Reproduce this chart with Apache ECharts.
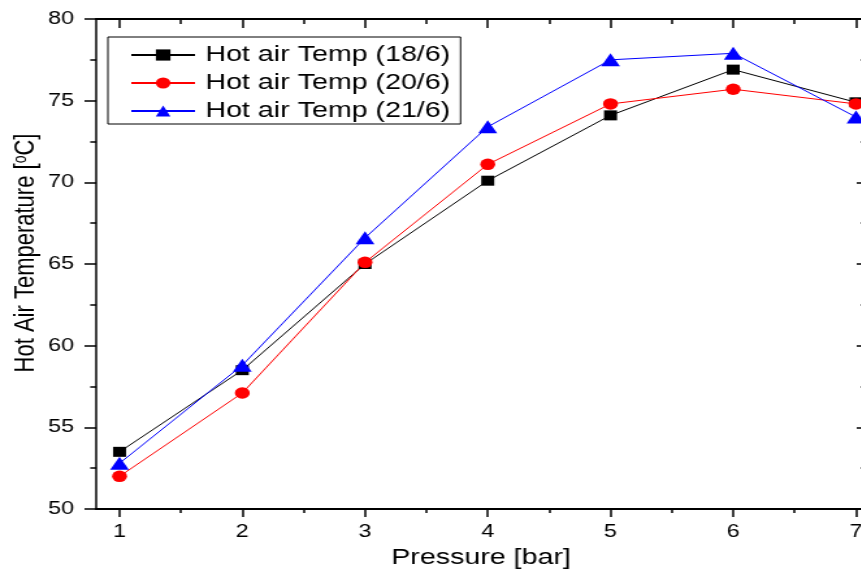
<!DOCTYPE html>
<html>
<head>
<meta charset="utf-8">
<script src="https://cdn.jsdelivr.net/npm/echarts@6/dist/echarts.min.js"></script>
<style>
  html, body { margin: 0; padding: 0; overflow: hidden; background: #fff; }
  /* the source figure is stretched sideways, so the chart is drawn narrow and widened */
  #chart { width: 668px; height: 571px; transform: scaleX(1.3); transform-origin: 0 0; }
</style>
</head>
<body>
<div id="chart"></div>
<script>
const pressure = [1, 2, 3, 4, 5, 6, 7]
const halfTicks = [1.5, 2.5, 3.5, 4.5, 5.5, 6.5]
const temp18 = [53.5, 58.5, 65.0, 70.1, 74.1, 76.9, 74.9]
const temp20 = [52.0, 57.1, 65.1, 71.1, 74.8, 75.7, 74.8]
const temp21 = [52.8, 58.8, 66.6, 73.4, 77.5, 77.9, 74.0]
const seriesNames = ['Hot air Temp (18/6)', 'Hot air Temp (20/6)', 'Hot air Temp (21/6)']

const font = 'Liberation Sans, Arial, sans-serif'
const black = '#000'

function pairs (ys) {
  return pressure.map((x, i) => [x, ys[i]])
}

const xBase = {
  type: 'value',
  min: 0.81,
  max: 7.08,
  splitLine: { show: false },
  axisLine: { lineStyle: { color: black, width: 2 } },
  axisLabel: { show: false }
}

const chart = echarts.init(document.getElementById('chart'), null, { renderer: 'canvas' })
chart.setOption({
  animation: false,
  backgroundColor: '#fff',
  grid: { left: 74, top: 19, width: 592, height: 490, outerBoundsMode: 'none' },
  legend: {
    orient: 'vertical',
    left: 83,
    top: 37,
    padding: [7, 8, 2, 17],
    itemWidth: 49,
    itemHeight: 14,
    itemGap: 6,
    borderColor: black,
    borderWidth: 1,
    borderRadius: 0,
    textStyle: { fontSize: 22, fontFamily: font, color: black, lineHeight: 22, padding: [0, 0, 0, 3] },
    data: seriesNames
  },
  xAxis: [
    {
      ...xBase,
      position: 'bottom',
      axisTick: { customValues: pressure, length: 8, lineStyle: { color: black, width: 1.5 } },
      axisLabel: { show: true, customValues: pressure, fontSize: 18, fontFamily: font, color: black, margin: 14 },
      name: 'Pressure [bar]',
      nameLocation: 'middle',
      nameGap: 38,
      nameMoveOverlap: false,
      nameTextStyle: { fontSize: 22, fontFamily: font, color: black }
    },
    {
      ...xBase,
      position: 'top',
      axisTick: { inside: true, customValues: pressure, length: 9, lineStyle: { color: black, width: 1.5 } }
    },
    { // minor ticks, bottom
      ...xBase,
      position: 'bottom',
      axisLine: { show: false },
      axisTick: { customValues: halfTicks, length: 4, lineStyle: { color: black, width: 1.5 } }
    },
    { // minor ticks, top
      ...xBase,
      position: 'top',
      axisLine: { show: false },
      axisTick: { inside: true, customValues: halfTicks, length: 5, lineStyle: { color: black, width: 1.5 } }
    }
  ],
  yAxis: [
    {
      type: 'value',
      position: 'left',
      min: 50,
      max: 80,
      interval: 5,
      splitLine: { show: false },
      axisLine: { lineStyle: { color: black, width: 1.5 } },
      axisTick: { length: 9, lineStyle: { color: black, width: 1.5 } },
      minorTick: { show: true, splitNumber: 2, length: 4.6, lineStyle: { color: black, width: 1.5 } },
      axisLabel: { fontSize: 18, fontFamily: font, color: black, margin: 17 },
      name: 'Hot Air Temperature [{sup|o}C]',
      nameLocation: 'middle',
      nameGap: 43,
      nameMoveOverlap: false,
      nameTextStyle: {
        fontSize: 22,
        fontFamily: font,
        color: black,
        padding: [0, 0, 0, 22],
        rich: { sup: { fontSize: 14, fontFamily: font, color: black, verticalAlign: 'top', lineHeight: 13 } }
      }
    },
    {
      type: 'value',
      position: 'right',
      min: 50,
      max: 80,
      interval: 5,
      splitLine: { show: false },
      axisLine: { lineStyle: { color: black, width: 1.5 } },
      axisTick: { inside: true, length: 7, lineStyle: { color: black, width: 1.5 } },
      minorTick: { show: true, splitNumber: 2, length: 4, lineStyle: { color: black, width: 1.5 } },
      axisLabel: { show: false }
    }
  ],
  series: [
    {
      name: seriesNames[0],
      type: 'line',
      data: pairs(temp18),
      symbol: 'rect',
      symbolSize: 10,
      itemStyle: { color: '#000000' },
      lineStyle: { color: '#000000', width: 1 }
    },
    {
      name: seriesNames[1],
      type: 'line',
      data: pairs(temp20),
      symbol: 'circle',
      symbolSize: 11.5,
      itemStyle: { color: '#ff0000' },
      lineStyle: { color: '#ff0000', width: 1 }
    },
    {
      name: seriesNames[2],
      type: 'line',
      data: pairs(temp21),
      symbol: 'triangle',
      symbolSize: [14.5, 13],
      itemStyle: { color: '#0000ff' },
      lineStyle: { color: '#0000ff', width: 1 }
    }
  ]
})
</script>
</body>
</html>
